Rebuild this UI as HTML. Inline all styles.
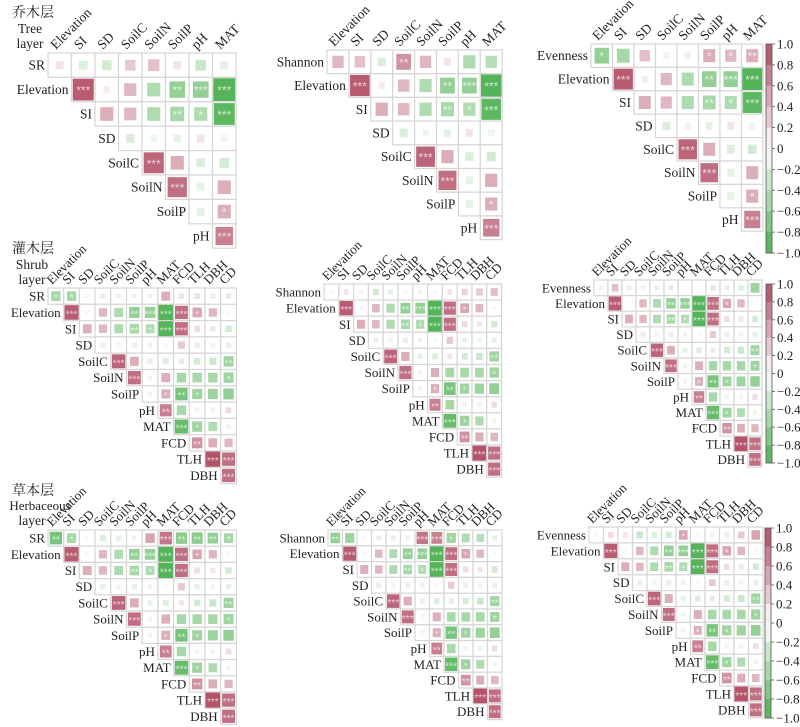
<!DOCTYPE html>
<html><head><meta charset="utf-8">
<style>
html,body{margin:0;padding:0;background:#fff;}
svg{display:block;font-family:"Liberation Serif","Noto Serif CJK SC",serif;}
</style></head>
<body>
<svg id="s" width="800" height="727" viewBox="0 0 800 727" xmlns="http://www.w3.org/2000/svg">
<text x="12" y="17" font-size="14" font-family="'Noto Serif CJK SC','Noto Sans CJK SC',serif" fill="#222">乔木层</text>
<text x="30" y="33" font-size="13.5" text-anchor="middle" fill="#222">Tree</text>
<text x="30" y="48" font-size="13.5" text-anchor="middle" fill="#222">layer</text>
<text x="12" y="253" font-size="14" font-family="'Noto Serif CJK SC','Noto Sans CJK SC',serif" fill="#222">灌木层</text>
<text x="32" y="269" font-size="13.5" text-anchor="middle" fill="#222">Shrub</text>
<text x="32" y="284" font-size="13.5" text-anchor="middle" fill="#222">layer</text>
<text x="12" y="495" font-size="14" font-family="'Noto Serif CJK SC','Noto Sans CJK SC',serif" fill="#222">草本层</text>
<text x="40" y="510" font-size="13" text-anchor="middle" fill="#222">Herbaceous</text>
<text x="32" y="525" font-size="13.5" text-anchor="middle" fill="#222">layer</text>
</svg>
<script>
var S=document.getElementById('s');
function el(t,a,txt){var e=document.createElementNS('http://www.w3.org/2000/svg',t);for(var k in a)e.setAttribute(k,a[k]);if(txt!=null)e.textContent=txt;S.appendChild(e);return e;}
function col(r){var a=Math.min(1,Math.abs(r));var c=r>=0?[176,74,98]:[76,176,80];
 var m=[255,255,255].map(function(w,i){return Math.round(w+(c[i]-w)*a);});return 'rgb('+m.join(',')+')';}
var tCols=['Elevation','SI','SD','SoilC','SoilN','SoilP','pH','MAT'];
var sCols=['Elevation','SI','SD','SoilC','SoilN','SoilP','pH','MAT','FCD','TLH','DBH','CD'];
var tEnv=[
[[.9,3],[.1,0],[.4,0],[-.45,0],[-.6,2],[-.6,3],[-.95,3]],
[[.45,0],[.4,0],[-.45,0],[-.5,2],[-.45,1],[-.9,3]],
[[-.2,0],[-.1,0],[-.15,0],[.15,0],[-.1,0]],
[[.85,3],[.45,0],[-.2,0],[-.25,0]],
[[.8,3],[-.15,0],[.45,0]],
[[-.15,0],[.45,1]],
[[.7,3]]];
var sEnv=[
[[.9,3],[.05,0],[.4,0],[-.45,0],[-.6,2],[-.6,3],[-.95,3],[.8,3],[.5,1],[.4,0],[.05,0]],
[[.45,0],[.4,0],[-.45,0],[-.5,2],[-.45,1],[-.95,3],[.8,3],[.2,0],[.15,0],[-.25,0]],
[[-.15,0],[-.1,0],[-.15,0],[.1,0],[-.05,0],[.3,0],[-.15,0],[-.1,0],[-.15,0]],
[[.85,3],[.45,0],[-.15,0],[-.2,0],[.15,0],[-.25,0],[-.3,0],[-.55,2]],
[[.8,3],[-.1,0],[.45,0],[-.5,0],[-.5,0],[-.5,0],[-.55,1]],
[[-.1,0],[.45,1],[-.75,2],[-.55,1],[-.55,0],[-.6,0]],
[[.7,2],[-.5,0],[-.1,0],[-.1,0],[.2,0]],
[[-.85,3],[-.55,1],[-.45,0],[-.1,0]],
[[.6,2],[.45,0],[.4,0]],
[[.95,3],[.8,3]],
[[.8,3]]];
var tRowN=['Elevation','SI','SD','SoilC','SoilN','SoilP','pH'];
var sRowN=['Elevation','SI','SD','SoilC','SoilN','SoilP','pH','MAT','FCD','TLH','DBH'];
function z(a){return a.map(function(v){return typeof v==='number'?[v,0]:v;});}
var P=[
 {x:48,y:53,cw:23.5,ch:24.4,cols:tCols,rn:tRowN,env:tEnv,fn:'SR',first:z([.15,-.2,-.25,.3,.35,.15,-.3,-.15])},
 {x:327,y:50,cw:21.9,ch:23.7,cols:tCols,rn:tRowN,env:tEnv,fn:'Shannon',first:z([.4,.35,-.2,[.6,2],.4,.15,-.45,-.4])},
 {x:591,y:44,cw:21.5,ch:23.4,cols:tCols,rn:tRowN,env:tEnv,fn:'Evenness',first:z([[-.6,1],-.5,.35,-.1,.1,[.45,1],[.4,1],[.45,2]])},
 {x:48,y:288,cw:15.7,ch:16.3,cols:sCols,rn:sRowN,env:sEnv,fn:'SR',first:z([[-.5,1],[-.5,1],.05,-.15,.1,.1,.1,.45,-.2,-.2,-.15,.15])},
 {x:324,y:284,cw:14.8,ch:16.1,cols:sCols,rn:sRowN,env:sEnv,fn:'Shannon',first:z([-.05,.15,-.1,-.25,-.15,.05,-.1,.05,.15,.25,.3,.35])},
 {x:594,y:280,cw:14,ch:15.6,cols:sCols,rn:sRowN,env:sEnv,fn:'Evenness',first:z([.1,.35,-.15,-.1,-.15,.15,-.05,-.05,-.2,-.15,-.2,-.55])},
 {x:48,y:530,cw:15.7,ch:16.2,cols:sCols,rn:sRowN,env:sEnv,fn:'SR',first:z([[-.75,2],[-.5,1],-.05,-.2,-.15,.1,.5,[.75,3],[-.65,2],[-.65,2],[-.6,2],[-.5,1]])},
 {x:328,y:530,cw:14.5,ch:15.8,cols:sCols,rn:sRowN,env:sEnv,fn:'Shannon',first:z([[-.6,2],-.55,-.05,-.15,-.15,.1,[.75,3],[.7,3],[-.55,1],-.45,-.4,-.15])},
 {x:589,y:527,cw:14.5,ch:15.9,cols:sCols,rn:sRowN,env:sEnv,fn:'Evenness',first:z([.05,.2,.15,-.3,-.2,-.25,[.5,1],.05,-.1,-.15,.3,.5])}
];
P.forEach(function(p){
 var fs=p.cw>20?13.5:13;
 p.cols.forEach(function(c,i){var cx=p.x+(i+.5)*p.cw;
  el('text',{x:cx-4,y:p.y-3,'font-size':fs,fill:'#222',transform:'rotate(-45 '+(cx-4)+' '+(p.y-3)+')'},c);});
 var rows=[{name:p.fn,start:0,d:p.first}];
 p.rn.forEach(function(r,i){rows.push({name:r,start:i+1,d:p.env[i]});});
 rows.forEach(function(r,ri){
  var y=p.y+ri*p.ch;
  el('text',{x:p.x+r.start*p.cw-3,y:y+p.ch/2+4.5,'font-size':fs,'text-anchor':'end',fill:'#222'},r.name);
  r.d.forEach(function(v,k){
   var ci=r.start+k, x=p.x+ci*p.cw;
   el('rect',{x:x,y:y,width:p.cw,height:p.ch,fill:'#fff',stroke:'#d6d6d6','stroke-width':1.2});
   var a=Math.abs(v[0]);var f=Math.min(0.95,0.22+0.75*a);var sw=p.cw*f, sh=p.ch*f;
   el('rect',{x:x+(p.cw-sw)/2,y:y+(p.ch-sh)/2,width:sw,height:sh,fill:col(v[0])});
   if(v[1]>0) el('text',{x:x+p.cw/2,y:y+p.ch/2+5,'font-size':p.cw>20?12:10,'text-anchor':'middle',fill:'rgba(255,255,255,0.7)','font-family':'Liberation Sans,sans-serif'},'*'.repeat(v[1]));
  });
 });
});
[[766,44,253],[766,284,463],[765,528,718]].forEach(function(b){
 var x=b[0],y0=b[1],y1=b[2],h=(y1-y0)/10;
 for(var i=0;i<10;i++){var v=1-(i+.5)*0.2;el('rect',{x:x,y:y0+i*h,width:6,height:h+0.3,fill:col(v)});}
 el('rect',{x:x,y:y0,width:6,height:y1-y0,fill:'none',stroke:'#555','stroke-width':0.8});
 var L=['1.0','0.8','0.6','0.4','0.2','0','\u22120.2','\u22120.4','\u22120.6','\u22120.8','\u22121.0'];
 L.forEach(function(t,i){var y=y0+i*h;el('line',{x1:x+6,x2:x+9,y1:y,y2:y,stroke:'#555','stroke-width':0.8});
  el('text',{x:x+11,y:y+4.5,'font-size':13,fill:'#222'},t);});
});
</script>
</body></html>
